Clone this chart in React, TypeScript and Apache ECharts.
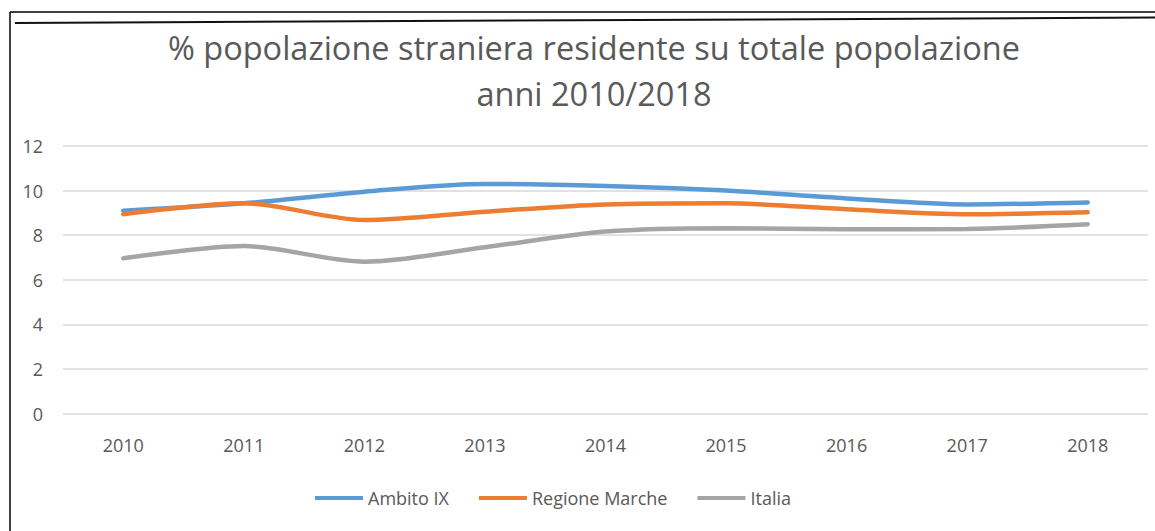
import React, { useEffect, useRef } from "react";
import * as echarts from "echarts";

const years = ["2010", "2011", "2012", "2013", "2014", "2015", "2016", "2017", "2018"];
const ambitoIX = [9.1, 9.43, 9.95, 10.3, 10.21, 10.0, 9.65, 9.38, 9.47];
const regioneMarche = [8.94, 9.43, 8.68, 9.05, 9.38, 9.43, 9.16, 8.94, 9.03];
const italia = [6.96, 7.51, 6.81, 7.46, 8.16, 8.31, 8.26, 8.28, 8.49];
const yTicks = { min: 0, max: 12, interval: 2 };

const FONT = "'Open Sans', 'Noto Sans', sans-serif";
const TEXT = "#595959";

export default function App() {
  const ref = useRef<HTMLDivElement>(null);
  useEffect(() => {
    document.body.style.margin = "0";
    const chart = echarts.init(ref.current!, null, { renderer: "svg" });
    const mk = (name: string, data: number[], color: string) => ({
      name,
      type: "line",
      data,
      smooth: 0.3,
      symbol: "none",
      lineStyle: { color, width: 4.5, cap: "round" },
      itemStyle: { color },
    });
    chart.setOption({
      animation: false,
      backgroundColor: "#ffffff",
      title: {
        text: "% popolazione straniera residente su totale popolazione\nanni 2010/2018",
        left: 589,
        textAlign: "center",
        top: 19,
        textStyle: {
          fontFamily: FONT,
          fontSize: 32.5,
          fontWeight: "normal",
          color: TEXT,
          lineHeight: 46,
        },
      },
      grid: { left: 63, right: 7, top: 146, bottom: 117.5, containLabel: false },
      xAxis: {
        type: "category",
        data: years,
        boundaryGap: true,
        axisLine: { show: false },
        axisTick: { show: false },
        axisLabel: { color: TEXT, fontFamily: FONT, fontSize: 18, margin: 22 },
      },
      yAxis: {
        type: "value",
        min: yTicks.min,
        max: yTicks.max,
        interval: yTicks.interval,
        axisLine: { show: false },
        axisTick: { show: false },
        axisLabel: { color: TEXT, fontFamily: FONT, fontSize: 18, margin: 20 },
        splitLine: { lineStyle: { color: "#d9d9d9", width: 1.5 } },
      },
      legend: {
        bottom: 19,
        left: 310,
        icon: "rect",
        itemWidth: 48,
        itemHeight: 4,
        itemGap: 30,
        textStyle: { color: TEXT, fontFamily: FONT, fontSize: 18 },
        data: ["Ambito IX", "Regione Marche", "Italia"],
      },
      series: [
        mk("Ambito IX", ambitoIX, "#5B9BD5"),
        mk("Regione Marche", regioneMarche, "#ED7D31"),
        mk("Italia", italia, "#A5A5A5"),
      ],
      graphic: [
        { type: "line", shape: { x1: 10, y1: 12, x2: 1155, y2: 12 }, style: { stroke: "#000", lineWidth: 1.5 } },
        { type: "line", shape: { x1: 10, y1: 12, x2: 10, y2: 531 }, style: { stroke: "#000", lineWidth: 1.5 } },
        { type: "line", shape: { x1: 15, y1: 23, x2: 1155, y2: 17.5 }, style: { stroke: "#111", lineWidth: 2 } },
      ],
    });
    return () => chart.dispose();
  }, []);
  return <div ref={ref} style={{ width: 1155, height: 531 }} />;
}
